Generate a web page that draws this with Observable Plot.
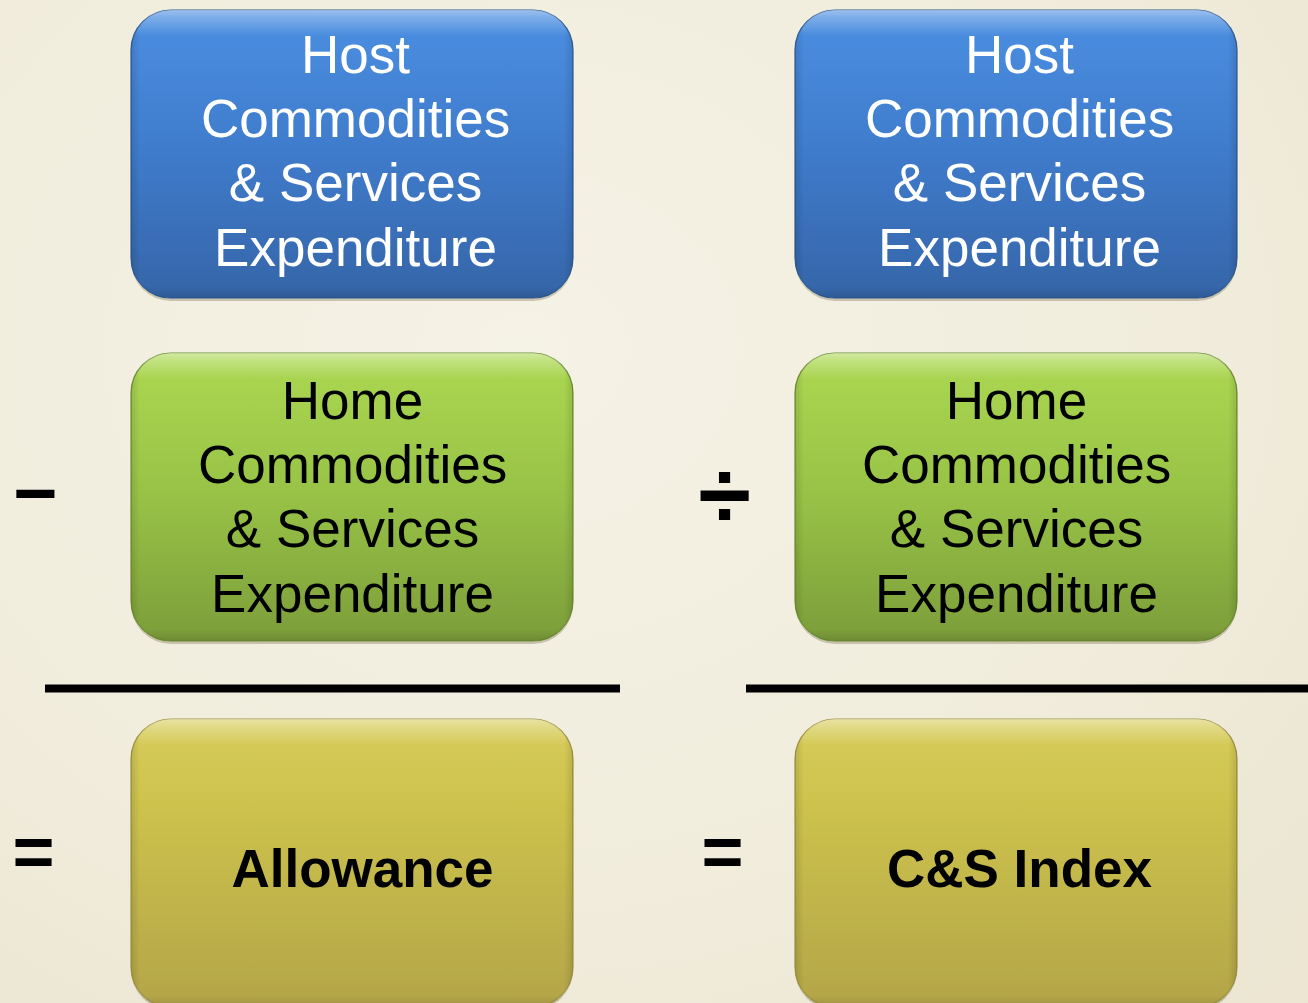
<!DOCTYPE html>
<html><head><meta charset="utf-8">
<script src="https://cdn.jsdelivr.net/npm/d3@7"></script>
<script src="https://cdn.jsdelivr.net/npm/@observablehq/plot@0.6"></script>
<style>
html,body{margin:0;padding:0;background:#f2eedf;overflow:hidden}
#chart svg{display:block}
</style></head><body><div id="chart"></div>
<script>
// ---- content ----
const columns = ["Allowance", "C&S Index"];
const rows = ["Host", "Home", "Result"];
const rowLabels = {
  Host: "Host\nCommodities\n& Services\nExpenditure",
  Home: "Home\nCommodities\n& Services\nExpenditure"
};
const resultLabels = ["Allowance", "C&S Index"];
const operators = ["−", "÷"];
const equalsSigns = ["=", "="];

// ---- layout (pixel space of the slide) ----
const W = 1308, H = 1003;
const colLeft = {"Allowance": 131, "C&S Index": 795};
const rowTop = {Host: 10, Home: 353, Result: 719};
const boxW = 442, boxH = 288, radius = 40;
const resultShift = {"Allowance": 10, "C&S Index": 3};
const opX = {"Allowance": 35, "C&S Index": 724};
const opY = {"Allowance": 494, "C&S Index": 497};
const opSize = {"Allowance": 76, "C&S Index": 96};
const eqY = 852;
const ruleSpan = {"Allowance": [45, 620], "C&S Index": [746, 1308]};
const ruleY = 688;

const boxes = [];
columns.forEach((c, i) => rows.forEach(r => boxes.push({
  col: c, row: r,
  label: r === "Result" ? resultLabels[i] : rowLabels[r]
})));
const x1 = d => colLeft[d.col], x2 = d => colLeft[d.col] + boxW;
const y1 = d => rowTop[d.row], y2 = d => rowTop[d.row] + boxH;
const cx = d => colLeft[d.col] + boxW / 2;
const cy = d => rowTop[d.row] + boxH / 2;
const font = "Liberation Sans, Arial, Helvetica, sans-serif";
const gradFor = {Host: "url(#gBlue)", Home: "url(#gGreen)", Result: "url(#gGold)"};
const strokeFor = {Host: "#2f5c96", Home: "#6f8f32", Result: "#a09440"};

const marks = [
  Plot.rect(boxes, {x1, x2, y1: d => y1(d) + 3, y2: d => y2(d) + 3, rx: radius, fill: "#5a5030", fillOpacity: 0.28, ariaLabel: "box-shadow"}),
  ...rows.map(r => Plot.rect(boxes.filter(d => d.row === r), {x1, x2, y1, y2, rx: radius, fill: gradFor[r], stroke: strokeFor[r], strokeWidth: 1.2})),
  Plot.rect(boxes, {x1, x2, y1, y2, rx: radius, fill: "url(#gGloss)"}),
  Plot.rect(boxes, {x1, x2, y1, y2, rx: radius, fill: "url(#gSide)"}),
  Plot.text(boxes.filter(d => d.row === "Host"), {x: cx, y: d => cy(d) - 6, text: "label", fill: "white", fontSize: 53, lineHeight: 1.215, fontFamily: font, dx: 3}),
  Plot.text(boxes.filter(d => d.row === "Home"), {x: cx, y: d => cy(d) - 3, text: "label", fill: "black", fontSize: 53, lineHeight: 1.215, fontFamily: font}),
  Plot.text(boxes.filter(d => d.row === "Result"), {x: d => cx(d) + resultShift[d.col], y: d => cy(d) + 7, text: "label", fill: "black", fontSize: 53, fontWeight: "bold", fontFamily: font}),
  Plot.ruleY(columns, {y: ruleY, x1: c => ruleSpan[c][0], x2: c => ruleSpan[c][1], stroke: "black", strokeWidth: 8}),
  ...columns.map((c, i) => Plot.text([c], {x: opX[c], y: opY[c], text: () => operators[i], fontSize: opSize[c], fontWeight: "bold", fill: "black", fontFamily: font})),
  Plot.text(columns, {x: c => opX[c] - 2, y: eqY, text: (c, i) => equalsSigns[i], fontSize: 72, fontWeight: "bold", fill: "black", fontFamily: font})
];

const svg = Plot.plot({
  width: W, height: H, margin: 0,
  x: {domain: [0, W], range: [0, W], axis: null},
  y: {domain: [0, H], range: [0, H], axis: null},
  style: {background: "radial-gradient(ellipse at 40% 35%, #f5f2e6 0%, #f1eddd 55%, #ebe5d1 100%)", overflow: "hidden"},
  marks
});

const defs = d3.select(svg).insert("defs", ":first-child");
defs.html(`
<linearGradient id="gBlue" x1="0" y1="0" x2="0" y2="1">
  <stop offset="0" stop-color="#4b8fe2"/><stop offset="0.5" stop-color="#3f7bcb"/><stop offset="1" stop-color="#3565a8"/>
</linearGradient>
<linearGradient id="gGreen" x1="0" y1="0" x2="0" y2="1">
  <stop offset="0" stop-color="#acd852"/><stop offset="0.5" stop-color="#97c246"/><stop offset="1" stop-color="#7c9d3a"/>
</linearGradient>
<linearGradient id="gGold" x1="0" y1="0" x2="0" y2="1">
  <stop offset="0" stop-color="#d8cd5c"/><stop offset="0.3" stop-color="#ccc24c"/><stop offset="1" stop-color="#b3a548"/>
</linearGradient>
<linearGradient id="gGloss" x1="0" y1="0" x2="0" y2="1">
  <stop offset="0" stop-color="#ffffff" stop-opacity="0.45"/><stop offset="0.025" stop-color="#ffffff" stop-opacity="0.28"/>
  <stop offset="0.09" stop-color="#ffffff" stop-opacity="0"/><stop offset="0.96" stop-color="#000000" stop-opacity="0"/>
  <stop offset="1" stop-color="#000000" stop-opacity="0.12"/>
</linearGradient>
<linearGradient id="gSide" x1="0" y1="0" x2="1" y2="0">
  <stop offset="0" stop-color="#000000" stop-opacity="0.12"/><stop offset="0.02" stop-color="#000000" stop-opacity="0"/>
  <stop offset="0.98" stop-color="#000000" stop-opacity="0"/><stop offset="1" stop-color="#000000" stop-opacity="0.12"/>
</linearGradient>
<filter id="blur" x="-10%" y="-10%" width="120%" height="120%"><feGaussianBlur stdDeviation="2.5"/></filter>
`);
d3.select(svg).select('g[aria-label="box-shadow"]').attr("filter", "url(#blur)");
document.getElementById("chart").append(svg);
</script>
</body></html>
